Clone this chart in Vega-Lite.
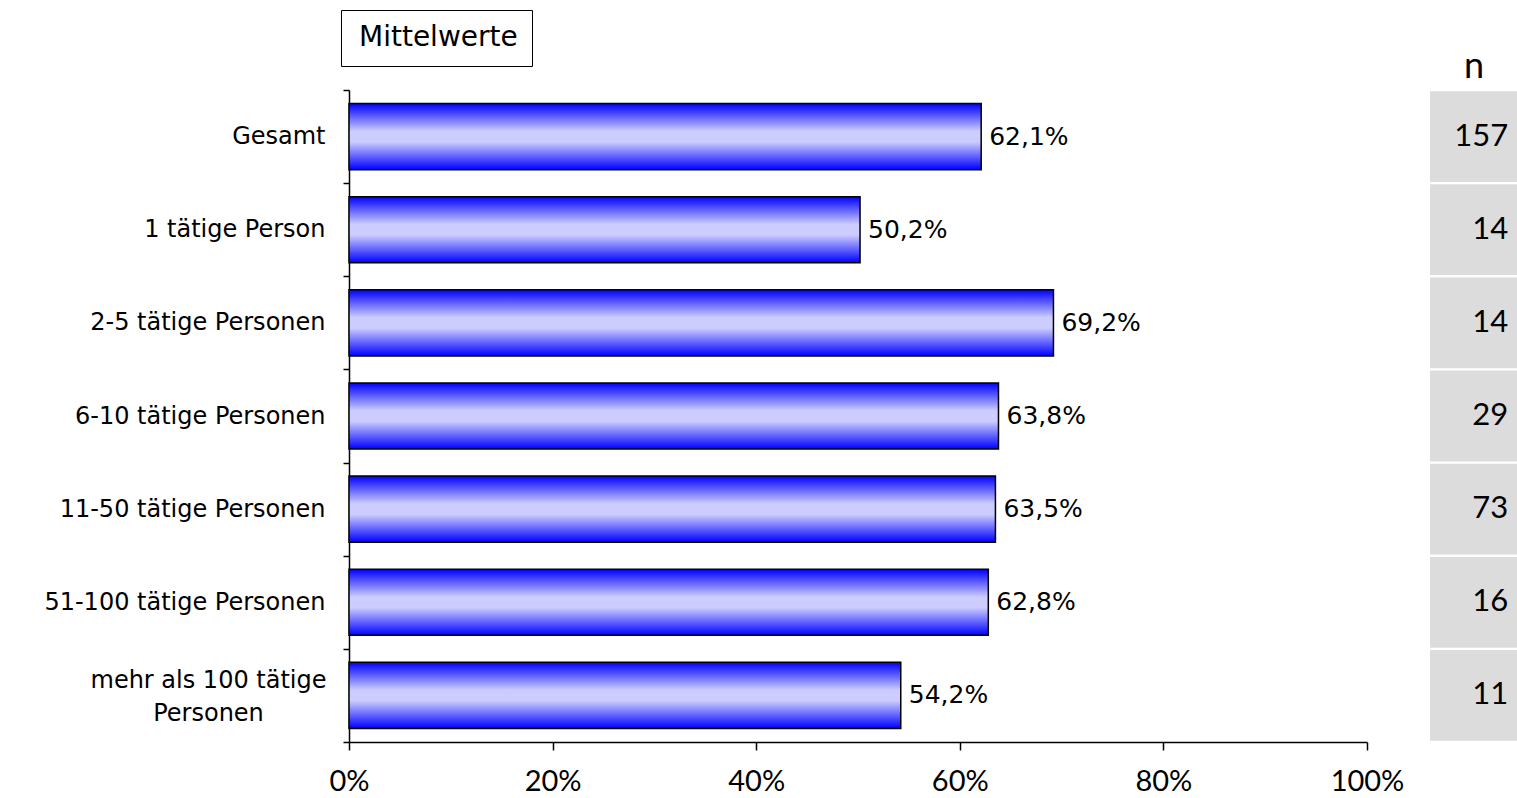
{
  "$schema": "https://vega.github.io/schema/vega-lite/v6.json",
  "width": 1168,
  "height": 652,
  "autosize": {"type": "none"},
  "padding": {"left": 349, "top": 90, "right": 0, "bottom": 56},
  "background": "white",
  "config": {
    "view": {"stroke": null},
    "locale": {"number": {"decimal": ",", "thousands": ".", "grouping": [3], "currency": ["", " €"]}},
    "font": "DejaVu Sans"
  },
  "data": {
    "values": [
      {"cat": "Gesamt", "v": 0.621, "n": 157},
      {"cat": "1 tätige Person", "v": 0.502, "n": 14},
      {"cat": "2-5 tätige Personen", "v": 0.692, "n": 14},
      {"cat": "6-10 tätige Personen", "v": 0.638, "n": 29},
      {"cat": "11-50 tätige Personen", "v": 0.635, "n": 73},
      {"cat": "51-100 tätige Personen", "v": 0.628, "n": 16},
      {"cat": "mehr als 100 tätige Personen", "v": 0.542, "n": 11}
    ]
  },
  "encoding": {
    "y": {
      "field": "cat",
      "type": "nominal",
      "sort": null,
      "scale": {"paddingInner": 0, "paddingOuter": 0},
      "axis": {
        "title": null,
        "domainColor": "black",
        "domainWidth": 1.5,
        "tickColor": "black",
        "tickWidth": 1.5,
        "tickSize": 6,
        "tickBand": "extent",
        "labelFont": "DejaVu Sans",
        "labelFontSize": 24,
        "labelColor": "black",
        "labelPadding": {"condition": {"test": "datum.value == 'mehr als 100 tätige Personen'", "value": 135}, "value": 18},
        "labelAlign": {"condition": {"test": "datum.value == 'mehr als 100 tätige Personen'", "value": "center"}, "value": "right"},
        "labelLimit": 400,
        "labelLineHeight": 33,
        "labelOffset": {"condition": {"test": "datum.value == 'mehr als 100 tätige Personen'", "value": -15}, "value": 0},
        "labelExpr": "datum.label == 'mehr als 100 tätige Personen' ? ['mehr als 100 tätige', 'Personen'] : datum.label"
      }
    }
  },
  "layer": [
    {
      "layer": [
        {
          "mark": {
            "type": "bar",
            "height": {"band": 0.71},
            "stroke": "black",
            "strokeWidth": 1.5,
            "fill": {
              "gradient": "linear",
              "x1": 0, "y1": 0, "x2": 0, "y2": 1,
              "stops": [
                {"offset": 0, "color": "#0000ff"},
                {"offset": 0.42, "color": "#ccccff"},
                {"offset": 0.58, "color": "#ccccff"},
                {"offset": 1, "color": "#0000ff"}
              ]
            }
          },
          "encoding": {
            "x": {
              "field": "v",
              "type": "quantitative",
              "scale": {"domain": [0, 1], "range": [0, 1018]},
              "axis": {
                "orient": "bottom",
                "title": null,
                "grid": false,
                "values": [0, 0.2, 0.4, 0.6, 0.8, 1],
                "format": ".0%",
                "tickSize": 8,
                "tickColor": "black",
                "tickWidth": 1.5,
                "domainColor": "black",
                "domainWidth": 1.5,
                "labelFont": "Lato",
                "labelFontSize": 29,
                "labelColor": "black",
                "labelPadding": 17,
                "labelFlush": false
              }
            }
          }
        },
        {
          "mark": {"type": "text", "align": "left", "baseline": "middle", "dx": 8, "fontSize": 25, "font": "DejaVu Sans"},
          "encoding": {
            "x": {"field": "v", "type": "quantitative", "scale": {"domain": [0, 1], "range": [0, 1018]}},
            "text": {"field": "v", "type": "quantitative", "format": ".1%"},
            "color": {
              "datum": "Mittelwerte",
              "type": "nominal",
              "scale": {"range": ["black"]},
              "legend": {
                "orient": "none",
                "legendX": -8,
                "legendY": -80,
                "title": null,
                "strokeColor": "black",
                "padding": 14,
                "symbolOpacity": 0,
                "symbolSize": 0,
                "symbolStrokeWidth": 0,
                "labelOffset": -24,
                "labelFont": "DejaVu Sans",
                "labelFontSize": 28,
                "labelColor": "black"
              }
            }
          }
        }
      ]
    },
    {
      "layer": [
        {
          "mark": {"type": "bar", "height": {"band": 0.975}, "fill": "#dcdcdc"},
          "encoding": {
            "x": {
              "datum": 0,
              "type": "quantitative",
              "scale": {"domain": [0, 1], "range": [1081, 1168]},
              "axis": {
                "orient": "top",
                "title": "n",
                "titleFont": "Lato",
                "titleFontSize": 36,
                "titleFontWeight": "normal",
                "titleColor": "black",
                "titleBaseline": "alphabetic",
                "titlePadding": 13,
                "labels": false,
                "ticks": false,
                "domain": false,
                "grid": false
              }
            },
            "x2": {"datum": 1}
          }
        },
        {
          "mark": {"type": "text", "align": "right", "baseline": "middle", "fontSize": 31, "font": "Lato", "color": "black"},
          "encoding": {
            "x": {"datum": 0.9, "type": "quantitative"},
            "text": {"field": "n", "type": "quantitative"}
          }
        }
      ]
    }
  ],
  "resolve": {"scale": {"x": "independent"}, "axis": {"x": "independent"}}
}
